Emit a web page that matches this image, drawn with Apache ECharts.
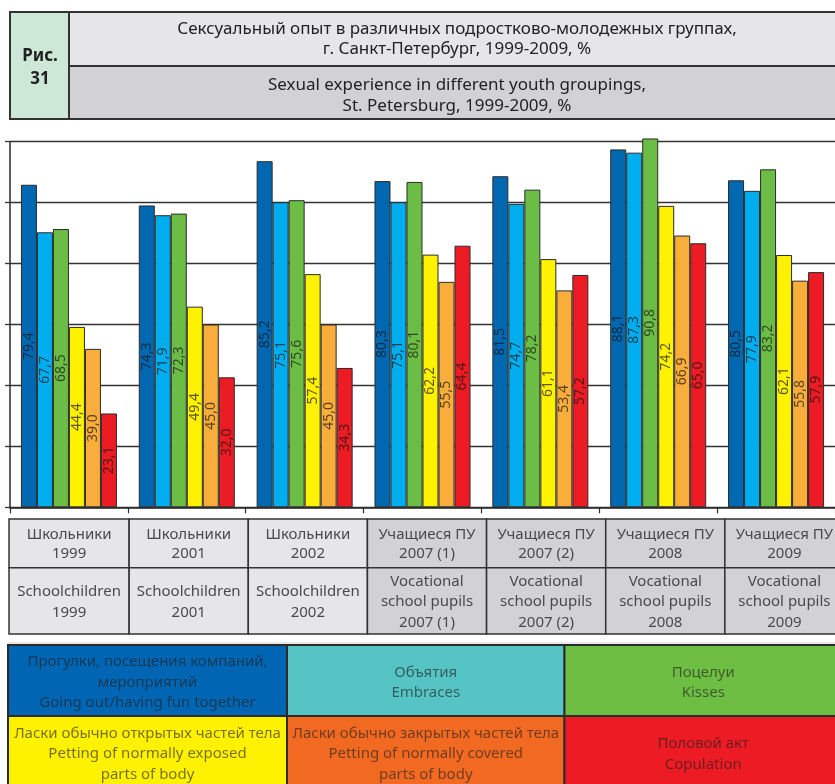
<!DOCTYPE html>
<html>
<head>
<meta charset="utf-8">
<script src="https://cdn.jsdelivr.net/npm/echarts@6/dist/echarts.min.js"></script>
<style>
  html, body { margin: 0; padding: 0; background: #fff; }
  #chart { width: 835px; height: 784px; }
</style>
</head>
<body>
<div id="chart"></div>
<script>
// Groups (x categories), Russian and English captions
const categoryKeys = ['1999', '2001', '2002', '2007 (1)', '2007 (2)', '2008', '2009'];
const categoriesRu = ['Школьники\n1999', 'Школьники\n2001', 'Школьники\n2002',
  'Учащиеся ПУ\n2007 (1)', 'Учащиеся ПУ\n2007 (2)', 'Учащиеся ПУ\n2008', 'Учащиеся ПУ\n2009'];
const categoriesEn = ['Schoolchildren\n1999', 'Schoolchildren\n2001', 'Schoolchildren\n2002',
  'Vocational\nschool pupils\n2007 (1)', 'Vocational\nschool pupils\n2007 (2)',
  'Vocational\nschool pupils\n2008', 'Vocational\nschool pupils\n2009'];

// Share of respondents with each kind of experience, %
const goingOut       = [79.4, 74.3, 85.2, 80.3, 81.5, 88.1, 80.5];
const embraces       = [67.7, 71.9, 75.1, 75.1, 74.7, 87.3, 77.9];
const kisses         = [68.5, 72.3, 75.6, 80.1, 78.2, 90.8, 83.2];
const pettingExposed = [44.4, 49.4, 57.4, 62.2, 61.1, 74.2, 62.1];
const pettingCovered = [39.0, 45.0, 45.0, 55.5, 53.4, 66.9, 55.8];
const copulation     = [23.1, 32.0, 34.3, 64.4, 57.2, 65.0, 57.9];

// Legend captions
const legendTexts = [
  'Прогулки, посещения компаний,\nмероприятий\nGoing out/having fun together',
  'Объятия\nEmbraces',
  'Поцелуи\nKisses',
  'Ласки обычно открытых частей тела\nPetting of normally exposed\nparts of body',
  'Ласки обычно закрытых частей тела\nPetting of normally covered\nparts of body',
  'Половой акт\nCopulation'
];

// Value axis
const yMin = 0, yMax = 90, yStep = 15;

const FONT = '"Noto Sans", "Open Sans", sans-serif';
const barColors = ['#0067b1', '#00aeef', '#6cbd45', '#fff200', '#f9ad3a', '#ed1c24'];
const legendColors = ['#0066b3', '#56c4c5', '#6fbe44', '#fff200', '#f26a21', '#ed1c24'];
const seriesData = [goingOut, embraces, kisses, pettingExposed, pettingCovered, copulation];

const GRID = { left: 10, top: 141.7, right: -9, bottom: 276.7 };
const W = 835;
const catW = (W - GRID.left - GRID.right) / categoryKeys.length;

const chart = echarts.init(document.getElementById('chart'), null, { renderer: 'canvas' });

const series = seriesData.map((d, i) => ({
  type: 'bar',
  data: d,
  barWidth: 16,
  barGap: '0%',
  clip: false,
  itemStyle: { color: barColors[i], borderColor: '#2b2b2b', borderWidth: 1 },
  label: {
    show: true,
    position: 'inside',
    rotate: 90,
    fontFamily: FONT,
    fontSize: 14,
    color: 'rgba(20,20,20,0.7)',
    formatter: p => p.value.toFixed(1).replace('.', ',')
  },
  emphasis: { disabled: true },
  silent: true
}));

// Header, category table and legend drawn as graphic elements
const graphic = [];
const stroke = '#333';

// Header block
graphic.push({ type: 'rect', shape: { x: 10, y: 12, width: 59, height: 107 },
  style: { fill: '#cde8d6', stroke: stroke, lineWidth: 2 } });
graphic.push({ type: 'rect', shape: { x: 69, y: 12, width: 820, height: 54 },
  style: { fill: '#e6e6e8', stroke: stroke, lineWidth: 2 } });
graphic.push({ type: 'rect', shape: { x: 69, y: 66, width: 820, height: 53 },
  style: { fill: '#d2d2d4', stroke: stroke, lineWidth: 2 } });
graphic.push({ type: 'text', style: { text: 'Рис.\n31', x: 40, y: 68, textAlign: 'center',
  textVerticalAlign: 'middle', font: 'bold 17px ' + FONT, lineHeight: 23, fill: '#222' } });
graphic.push({ type: 'text', style: {
  text: 'Сексуальный опыт в различных подростково-молодежных группах,\nг. Санкт-Петербург, 1999-2009, %',
  x: 457, y: 39, textAlign: 'center', textVerticalAlign: 'middle', font: '17px ' + FONT,
  lineHeight: 20, fill: '#222' } });
graphic.push({ type: 'text', style: {
  text: 'Sexual experience in different youth groupings,\nSt. Petersburg, 1999-2009, %',
  x: 457, y: 95.5, textAlign: 'center', textVerticalAlign: 'middle', font: '17px ' + FONT,
  lineHeight: 21, fill: '#222' } });

// Category table under the axis
const tTop = 519, tMid = 567.7, tBot = 634;
categoryKeys.forEach((k, i) => {
  const x0 = i === 0 ? 9 : GRID.left + i * catW;
  const x1 = GRID.left + (i + 1) * catW;
  const fill = i < 3 ? '#e6e6e8' : '#d2d2d4';
  graphic.push({ type: 'rect', shape: { x: x0, y: tTop, width: x1 - x0, height: tMid - tTop },
    style: { fill: fill, stroke: '#333', lineWidth: 1.5 } });
  graphic.push({ type: 'rect', shape: { x: x0, y: tMid, width: x1 - x0, height: tBot - tMid },
    style: { fill: fill, stroke: '#333', lineWidth: 1.5 } });
  const cx = (x0 + x1) / 2;
  graphic.push({ type: 'text', style: { text: categoriesRu[i], x: cx, y: 544,
    textAlign: 'center', textVerticalAlign: 'middle', font: '15px ' + FONT, lineHeight: 19, fill: '#4a4a4a' } });
  graphic.push({ type: 'text', style: { text: categoriesEn[i], x: cx, y: 602,
    textAlign: 'center', textVerticalAlign: 'middle', font: '15px ' + FONT, lineHeight: 20.5, fill: '#4a4a4a' } });
});

// Legend grid
graphic.push({ type: 'line', shape: { x1: 8, y1: 643, x2: 835, y2: 643 },
  style: { stroke: '#cfcfcf', lineWidth: 1 } });
const lCols = [8, 287, 564.5, 842];
const lRows = [645, 716, 790];
const lCenters = [682.5, 754];
legendTexts.forEach((t, i) => {
  const r = Math.floor(i / 3), c = i % 3;
  graphic.push({ type: 'rect', shape: { x: lCols[c], y: lRows[r], width: lCols[c + 1] - lCols[c], height: lRows[r + 1] - lRows[r] },
    style: { fill: legendColors[i], stroke: '#2b2b2b', lineWidth: 2 } });
  graphic.push({ type: 'text', style: { text: t, x: (lCols[c] + lCols[c + 1]) / 2, y: lCenters[r],
    textAlign: 'center', textVerticalAlign: 'middle', font: '15px ' + FONT, lineHeight: 20.5,
    fill: 'rgba(30,30,30,0.62)' } });
});

chart.setOption({
  animation: false,
  backgroundColor: '#fff',
  grid: GRID,
  xAxis: {
    type: 'category',
    data: categoryKeys,
    axisLine: { lineStyle: { color: '#2b2b2b', width: 1.5 } },
    axisTick: { show: true, length: 6, inside: false, lineStyle: { color: '#2b2b2b', width: 1.2 } },
    axisLabel: { show: false },
    splitLine: { show: false }
  },
  yAxis: {
    type: 'value',
    min: yMin, max: yMax, interval: yStep,
    axisLine: { show: true, lineStyle: { color: '#2b2b2b', width: 1.5 } },
    axisTick: { show: true, length: 5, lineStyle: { color: '#333', width: 1.3 } },
    axisLabel: { show: false },
    splitLine: { show: true, lineStyle: { color: '#333', width: 1.3 } }
  },
  series: series,
  graphic: graphic
});
</script>
</body>
</html>
